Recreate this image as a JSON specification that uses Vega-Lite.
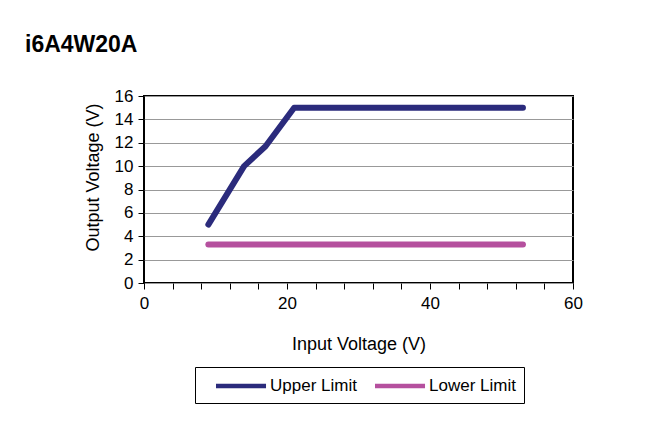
{
  "$schema": "https://vega.github.io/schema/vega-lite/v6.json",
  "width": 429,
  "height": 187,
  "autosize": {"type": "none"},
  "padding": {"left": 144, "top": 96, "right": 94, "bottom": 146},
  "background": "white",
  "title": {
    "text": "i6A4W20A",
    "anchor": "start",
    "frame": "group",
    "dx": -119,
    "offset": 12,
    "fontSize": 23,
    "fontWeight": "bold",
    "font": "Liberation Sans",
    "color": "black",
    "baseline": "alphabetic"
  },
  "data": {
    "values": [
      {"series": "Upper Limit", "vin": 9, "vout": 5},
      {"series": "Upper Limit", "vin": 14, "vout": 10},
      {"series": "Upper Limit", "vin": 17, "vout": 11.7},
      {"series": "Upper Limit", "vin": 21, "vout": 15},
      {"series": "Upper Limit", "vin": 53, "vout": 15},
      {"series": "Lower Limit", "vin": 9, "vout": 3.3},
      {"series": "Lower Limit", "vin": 53, "vout": 3.3}
    ]
  },
  "mark": {"type": "line", "strokeWidth": 6, "strokeCap": "round", "strokeJoin": "round"},
  "encoding": {
    "x": {
      "field": "vin",
      "type": "quantitative",
      "scale": {"domain": [0, 60], "nice": false},
      "axis": {
        "title": "Input Voltage (V)",
        "values": [0, 4, 8, 12, 16, 20, 24, 28, 32, 36, 40, 44, 48, 52, 56, 60],
        "labelExpr": "datum.value % 20 === 0 ? datum.label : ''",
        "labelFlush": false,
        "grid": false,
        "domain": false,
        "tickColor": "black",
        "tickSize": 6,
        "labelPadding": 6,
        "titlePadding": 24
      }
    },
    "y": {
      "field": "vout",
      "type": "quantitative",
      "scale": {"domain": [0, 16], "nice": false},
      "axis": {
        "title": "Output Voltage (V)",
        "values": [0, 2, 4, 6, 8, 10, 12, 14, 16],
        "grid": true,
        "gridColor": "#999999",
        "gridWidth": 1,
        "domain": false,
        "tickColor": "black",
        "tickSize": 6,
        "labelPadding": 5,
        "titlePadding": 12,
        "titleY": 81
      }
    },
    "color": {
      "field": "series",
      "type": "nominal",
      "scale": {"domain": ["Upper Limit", "Lower Limit"], "range": ["#2B2B7C", "#B5509E"]},
      "legend": {
        "title": null,
        "orient": "none",
        "legendX": 51,
        "legendY": 271,
        "direction": "horizontal",
        "symbolType": "M0.235,0L6.12,0",
        "symbolSize": 289,
        "symbolStrokeWidth": 4.5,
        "labelFontSize": 17,
        "labelFont": "Liberation Sans",
        "labelColor": "black",
        "labelOffset": 45,
        "columnPadding": 5,
        "strokeColor": "black",
        "padding": 8,
        "offset": 0
      }
    }
  },
  "config": {
    "view": {"stroke": "black", "strokeWidth": 2},
    "axis": {
      "labelFont": "Liberation Sans",
      "titleFont": "Liberation Sans",
      "labelFontSize": 17,
      "titleFontSize": 18,
      "titleFontWeight": "normal",
      "labelColor": "black",
      "titleColor": "black"
    }
  }
}
